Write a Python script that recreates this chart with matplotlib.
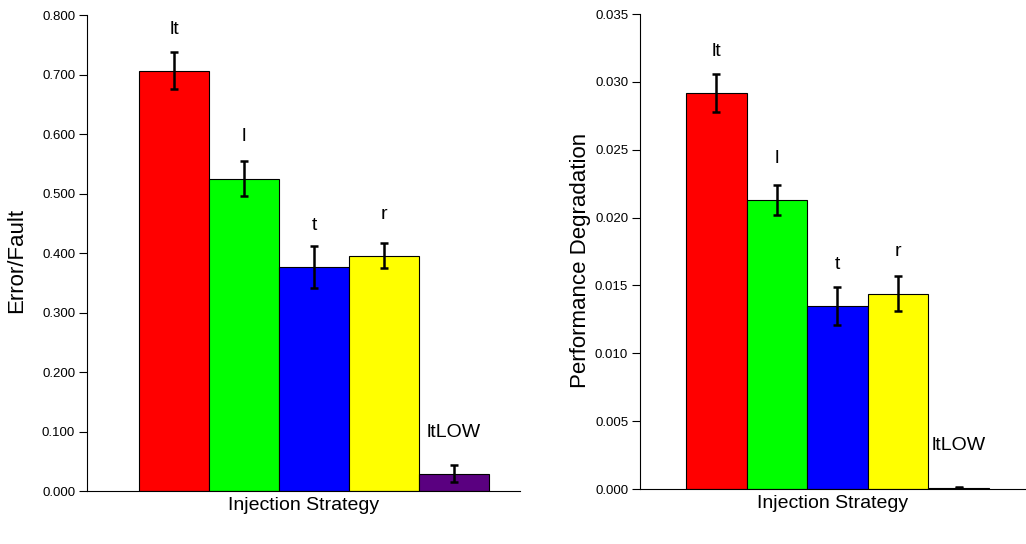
import matplotlib.pyplot as plt
from matplotlib.ticker import FormatStrFormatter

plt.rcParams['font.family'] = ['Liberation Sans', 'DejaVu Sans']

strategies = ["lt", "l", "t", "r", "ltLOW"]
colors = ["#ff0000", "#00ff00", "#0000ff", "#ffff00", "#5a0080"]

error_fault = [0.706, 0.525, 0.376, 0.395, 0.029]
error_fault_err = [0.031, 0.030, 0.035, 0.021, 0.014]

perf_deg = [0.0292, 0.0213, 0.0135, 0.0144, 0.0001]
perf_deg_err = [0.0014, 0.0011, 0.0014, 0.0013, 0.00003]


def draw_panel(ax, values, errors, ylim, step, ylabel, xlim):
    x = list(range(len(values)))
    ax.bar(x, values, width=1.0, color=colors, edgecolor="black", linewidth=0.8)
    ax.errorbar(x, values, yerr=errors, fmt="none", ecolor="black",
                elinewidth=1.8, capsize=3, capthick=1.8)
    for xi, v, name in zip(x, values, strategies):
        ax.annotate(name, (xi, v), xytext=(0, 30), textcoords="offset points",
                    ha="center", va="center", fontsize=14)
    ax.set_xlim(*xlim)
    ax.set_ylim(*ylim)
    ticks = [i * step for i in range(int(round(ylim[1] / step)) + 1)]
    ax.set_yticks(ticks)
    ax.yaxis.set_major_formatter(FormatStrFormatter("%.3f"))
    ax.set_xticks([])
    ax.spines["top"].set_visible(False)
    ax.spines["right"].set_visible(False)
    ax.tick_params(axis="y", direction="out", length=6, pad=2.5, labelsize=9.5)
    ax.set_xlabel("Injection Strategy", fontsize=14, labelpad=4)
    ax.set_ylabel(ylabel, fontsize=16)


fig = plt.figure(figsize=(10.26, 5.44), dpi=100)
ax1 = fig.add_axes([0.0848, 0.0974, 0.422, 0.875])
ax2 = fig.add_axes([0.6238, 0.1011, 0.376, 0.873])

draw_panel(ax1, error_fault, error_fault_err, (0, 0.8), 0.1, "Error/Fault", (-1.243, 4.943))
draw_panel(ax2, perf_deg, perf_deg_err, (0, 0.035), 0.005, "Performance Degradation", (-1.26, 5.11))
ax1.yaxis.set_label_coords(-0.139, 0.485)
ax2.yaxis.set_label_coords(-0.127, 0.482)

fig.savefig("out.png", dpi=100)
